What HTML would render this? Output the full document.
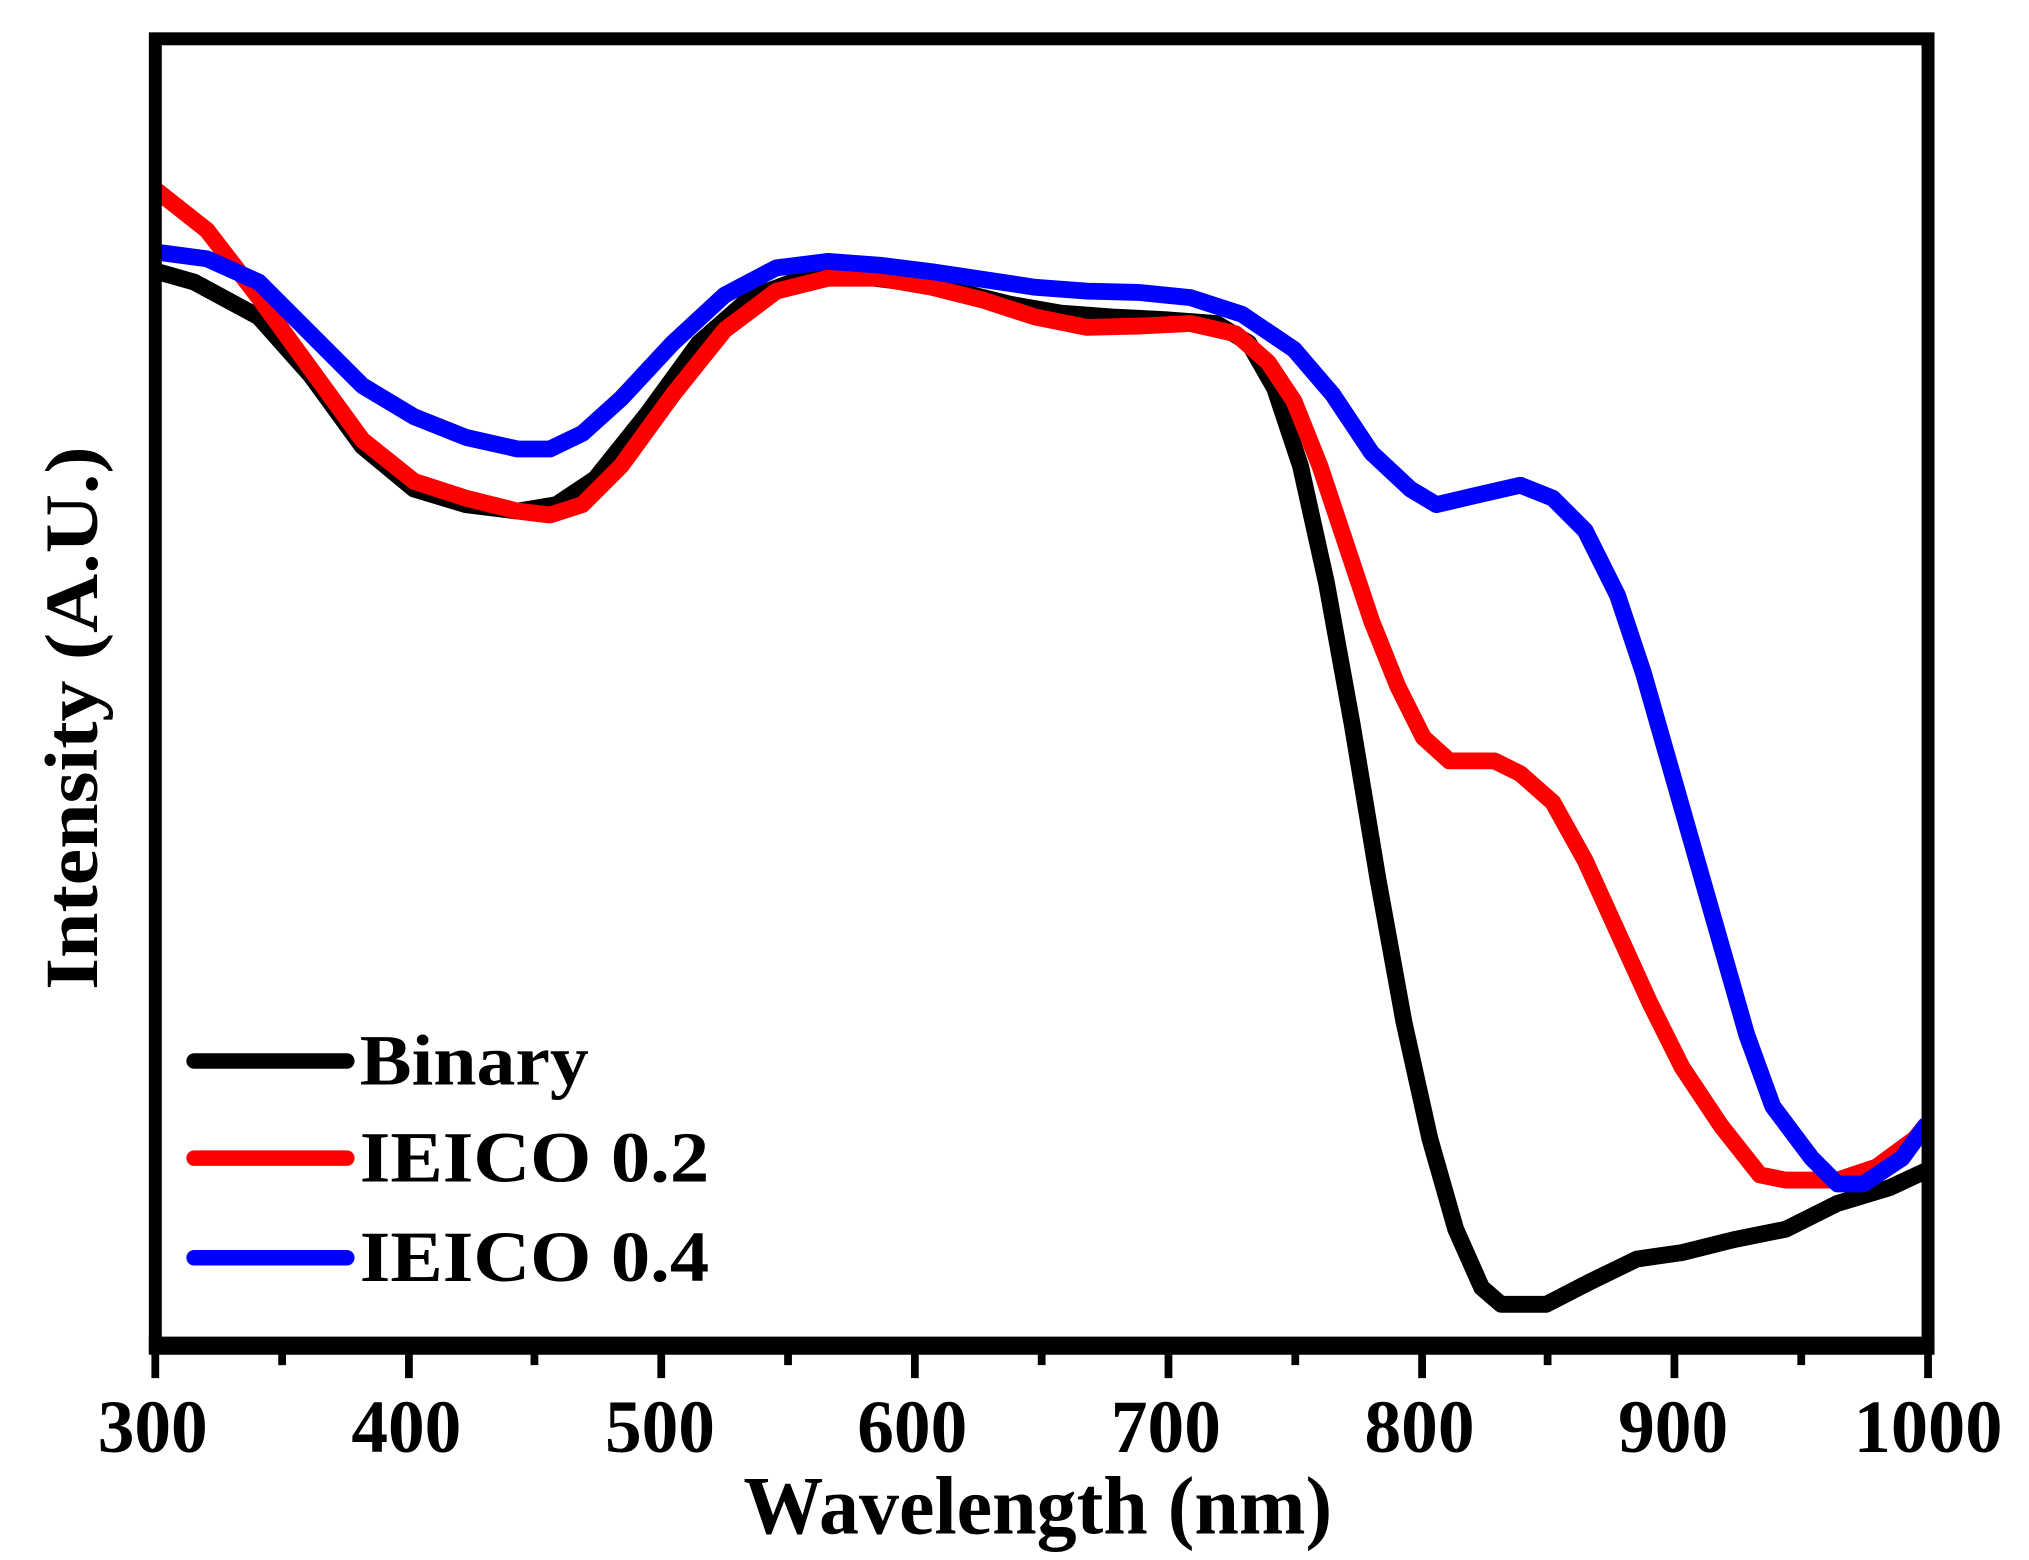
<!DOCTYPE html>
<html><head><meta charset="utf-8"><style>html,body{margin:0;padding:0;background:#fff;}svg{display:block}</style></head>
<body>
<svg width="2029" height="1560" viewBox="0 0 1568 1205.6" xmlns="http://www.w3.org/2000/svg">
<rect width="1568" height="1205.6" fill="#fff"/>
<g fill="none" stroke-linejoin="round" stroke-linecap="round" stroke-width="13">
<polyline stroke="#000" points="122,210 150,218 200,245 240,290 280,345 320,378 360,390 400,395 430,390 460,370 500,320 540,265 580,230 620,215 660,213 700,218 740,225 780,235 820,242 860,245 900,247 940,250 965,265 985,300 1005,360 1025,450 1045,560 1065,680 1085,790 1105,880 1125,950 1145,995 1160,1008 1195,1008 1230,990 1265,973 1300,968 1340,958 1380,950 1420,930 1460,918 1488,905"/>
<polyline stroke="#ff0000" points="122,148 160,178 200,230 240,285 280,340 320,372 360,385 400,395 425,398 450,390 480,360 520,305 560,255 600,225 640,215 680,215 720,222 760,232 800,245 840,253 880,252 920,250 955,258 980,280 1000,310 1020,360 1040,420 1060,480 1080,530 1100,570 1120,588 1155,588 1175,598 1200,620 1225,665 1250,720 1275,775 1300,825 1330,870 1360,908 1380,912 1420,912 1450,902 1480,880 1488,870"/>
<polyline stroke="#0000ff" points="122,195 160,200 200,218 240,258 280,298 320,322 360,338 400,347 425,347 450,335 480,308 520,265 560,228 600,207 640,202 680,205 720,210 760,216 800,222 840,225 880,226 920,230 960,243 1000,270 1030,305 1060,350 1090,378 1110,390 1140,383 1175,375 1200,385 1225,410 1250,460 1270,520 1290,590 1310,660 1330,730 1350,800 1370,855 1400,895 1420,915 1440,915 1470,895 1488,870"/>
</g>
<rect x="120" y="30" width="1370" height="1010" fill="none" stroke="#000" stroke-width="10"/>
<line x1="115" y1="1040" x2="1495" y2="1040" stroke="#000" stroke-width="14"/>
<g stroke="#000" stroke-width="6">
<line x1="120" y1="1040" x2="120" y2="1065"/><line x1="316" y1="1040" x2="316" y2="1065"/><line x1="511" y1="1040" x2="511" y2="1065"/><line x1="707" y1="1040" x2="707" y2="1065"/><line x1="903" y1="1040" x2="903" y2="1065"/><line x1="1099" y1="1040" x2="1099" y2="1065"/><line x1="1294" y1="1040" x2="1294" y2="1065"/><line x1="1490" y1="1040" x2="1490" y2="1065"/>
<line x1="218" y1="1040" x2="218" y2="1055"/><line x1="413" y1="1040" x2="413" y2="1055"/><line x1="609" y1="1040" x2="609" y2="1055"/><line x1="805" y1="1040" x2="805" y2="1055"/><line x1="1001" y1="1040" x2="1001" y2="1055"/><line x1="1196" y1="1040" x2="1196" y2="1055"/><line x1="1392" y1="1040" x2="1392" y2="1055"/>
</g>
<g font-family="Liberation Serif, serif" font-weight="bold" font-size="58" fill="#000" text-anchor="middle">
<text x="118" y="1122" textLength="85" lengthAdjust="spacingAndGlyphs">300</text>
<text x="314" y="1122" textLength="85" lengthAdjust="spacingAndGlyphs">400</text>
<text x="510" y="1122" textLength="85" lengthAdjust="spacingAndGlyphs">500</text>
<text x="705" y="1122" textLength="85" lengthAdjust="spacingAndGlyphs">600</text>
<text x="901" y="1122" textLength="85" lengthAdjust="spacingAndGlyphs">700</text>
<text x="1097" y="1122" textLength="85" lengthAdjust="spacingAndGlyphs">800</text>
<text x="1293" y="1122" textLength="85" lengthAdjust="spacingAndGlyphs">900</text>
<text x="1490" y="1122" textLength="115" lengthAdjust="spacingAndGlyphs">1000</text>
</g>
<text x="802" y="1185" font-family="Liberation Serif, serif" font-weight="bold" font-size="64" text-anchor="middle" textLength="455" lengthAdjust="spacingAndGlyphs">Wavelength (nm)</text>
<text transform="translate(75,555) rotate(-90)" font-family="Liberation Serif, serif" font-weight="bold" font-size="58" text-anchor="middle" textLength="420" lengthAdjust="spacingAndGlyphs">Intensity (A.U.)</text>
<g stroke-width="12" stroke-linecap="round">
<line x1="150" y1="820" x2="268" y2="820" stroke="#000"/>
<line x1="150" y1="895" x2="268" y2="895" stroke="#ff0000"/>
<line x1="150" y1="972" x2="268" y2="972" stroke="#0000ff"/>
</g>
<g font-family="Liberation Serif, serif" font-weight="bold" font-size="56" fill="#000">
<text x="278" y="838" textLength="177" lengthAdjust="spacingAndGlyphs">Binary</text>
<text x="278" y="913" textLength="270" lengthAdjust="spacingAndGlyphs">IEICO 0.2</text>
<text x="278" y="990" textLength="270" lengthAdjust="spacingAndGlyphs">IEICO 0.4</text>
</g>
</svg>
</body></html>
